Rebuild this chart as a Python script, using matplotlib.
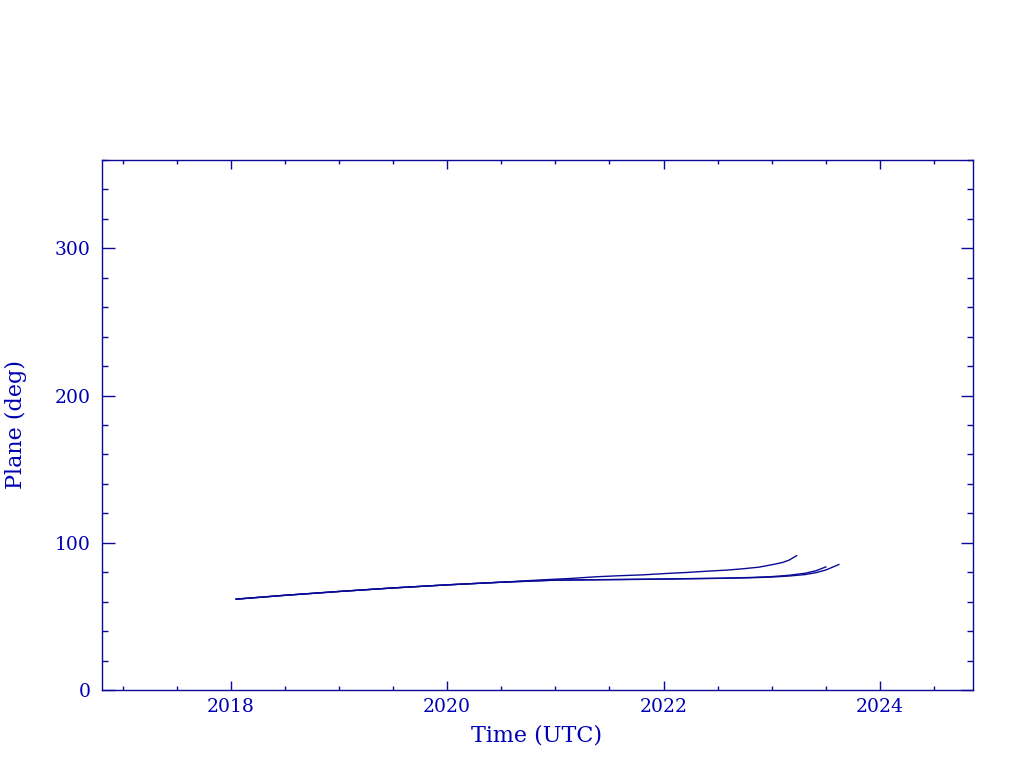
import matplotlib
matplotlib.use("Agg")
import matplotlib.pyplot as plt
from matplotlib.ticker import MultipleLocator

# orbit plane vs time, three tracks
t_a = [2018.05, 2018.5, 2019.0, 2019.5, 2020.0, 2020.5, 2020.88, 2021.13, 2021.38, 2021.59,
       2021.81, 2022.02, 2022.21, 2022.36, 2022.58, 2022.73, 2022.88, 2023.01, 2023.10, 2023.16, 2023.23]
p_a = [61.7, 64.3, 66.9, 69.3, 71.4, 73.2, 74.8, 75.7, 76.9, 77.6,
       78.2, 79.1, 79.8, 80.5, 81.4, 82.3, 83.4, 85.2, 86.6, 88.2, 91.2]

t_b = [2018.05, 2018.5, 2019.0, 2019.5, 2020.0, 2020.5, 2021.0, 2021.5, 2022.0, 2022.5,
       2022.8, 2023.0, 2023.16, 2023.31, 2023.41, 2023.50]
p_b = [61.7, 64.3, 66.9, 69.3, 71.4, 73.2, 74.6, 75.0, 75.4, 75.9,
       76.4, 77.0, 77.9, 79.3, 81.0, 83.6]

t_c = [2018.05, 2018.5, 2019.0, 2019.5, 2020.0, 2020.5, 2021.0, 2021.5, 2022.0, 2022.5,
       2022.8, 2023.0, 2023.16, 2023.31, 2023.41, 2023.50, 2023.62]
p_c = [61.7, 64.3, 66.9, 69.3, 71.4, 73.2, 74.6, 74.9, 75.3, 75.8,
       76.2, 76.7, 77.4, 78.4, 79.7, 81.5, 85.2]

blue = '#0000b4'
line_col = '#0a0a96'

plt.rcParams['font.family'] = ['DejaVu Serif']

fig = plt.figure(figsize=(10.24, 7.68), dpi=100)
ax = fig.add_axes([0.0996, 0.1016, 0.8506, 0.6901])

for t, p in [(t_a, p_a), (t_b, p_b), (t_c, p_c)]:
    ax.plot(t, p, color=line_col, lw=1.0)

ax.set_xlim(2016.81, 2024.86)
ax.set_ylim(0, 360)

ax.xaxis.set_major_locator(MultipleLocator(2))
ax.xaxis.set_minor_locator(MultipleLocator(0.5))
ax.yaxis.set_major_locator(MultipleLocator(100))
ax.yaxis.set_minor_locator(MultipleLocator(20))

for s in ax.spines.values():
    s.set_color(line_col)
    s.set_linewidth(1.0)

ax.tick_params(axis='both', which='both', direction='in', top=True, right=True,
               color=line_col, labelcolor=blue, labelsize=13.5, width=1.0)
ax.tick_params(axis='x', which='major', length=6.5, pad=6)
ax.tick_params(axis='x', which='minor', length=3.2)
ax.tick_params(axis='y', which='major', length=9, pad=8)
ax.tick_params(axis='y', which='minor', length=4.6)

ax.set_xlabel('Time (UTC)', color=blue, fontsize=16)
ax.set_ylabel('Plane (deg)', color=blue, fontsize=16)
ax.xaxis.set_label_coords(0.499, -0.066)
ax.yaxis.set_label_coords(-0.086, 0.5)

fig.savefig('out.png', dpi=100)
